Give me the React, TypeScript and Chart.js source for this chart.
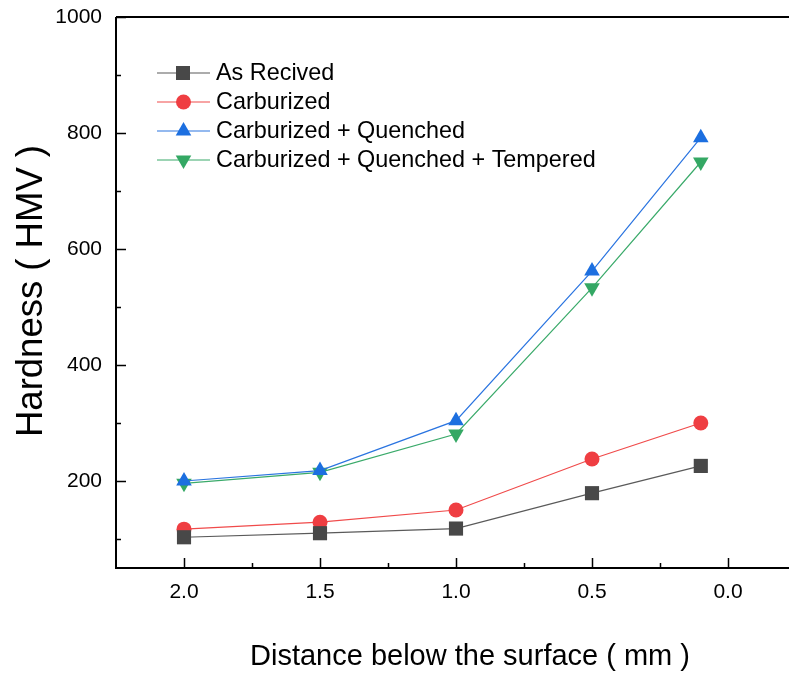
import React, { useEffect, useRef } from "react";
import { Chart, registerables } from "chart.js";

Chart.register(...registerables);

const distances = [2.0, 1.5, 1.0, 0.5, 0.1];
const asReceived = [103, 110, 118, 179, 226];
const carburized = [117, 129, 150, 238, 300];
const carbQuenched = [200, 218, 304, 562, 792];
const carbQuenchedTempered = [196, 215, 281, 533, 750];

const seriesLabels = [
  "As Recived",
  "Carburized",
  "Carburized + Quenched",
  "Carburized + Quenched + Tempered",
];

const xMajorTicks = [2.0, 1.5, 1.0, 0.5, 0.0];
const xMinorTicks = [1.75, 1.25, 0.75, 0.25];
const yMajorTicks = [200, 400, 600, 800, 1000];
const yMinorTicks = [100, 300, 500, 700, 900];

const xTitle = "Distance below the surface ( mm )";
const yTitle = "Hardness ( HMV )";

const FONT = "Arial, 'Liberation Sans', sans-serif";

const framePlugin = {
  id: "frame",
  afterDatasetsDraw(chart: any) {
    const { ctx, chartArea } = chart;
    const xs = chart.scales.x;
    const ys = chart.scales.y;
    const rightEdge = chart.width;
    ctx.save();
    ctx.strokeStyle = "#000";
    ctx.lineWidth = 2;
    ctx.beginPath();
    ctx.moveTo(chartArea.left, chartArea.top);
    ctx.lineTo(rightEdge, chartArea.top);
    ctx.moveTo(chartArea.left, chartArea.top);
    ctx.lineTo(chartArea.left, chartArea.bottom);
    ctx.lineTo(rightEdge, chartArea.bottom);
    ctx.stroke();
    ctx.lineWidth = 1.5;
    ctx.beginPath();
    xMajorTicks.forEach((v) => {
      const px = Math.round(xs.getPixelForValue(v)) + 0.5;
      ctx.moveTo(px, chartArea.bottom);
      ctx.lineTo(px, chartArea.bottom - 10);
    });
    xMinorTicks.forEach((v) => {
      const px = Math.round(xs.getPixelForValue(v)) + 0.5;
      ctx.moveTo(px, chartArea.bottom);
      ctx.lineTo(px, chartArea.bottom - 5);
    });
    yMajorTicks.forEach((v) => {
      const py = Math.round(ys.getPixelForValue(v)) + 0.5;
      ctx.moveTo(chartArea.left, py);
      ctx.lineTo(chartArea.left + 10, py);
    });
    yMinorTicks.forEach((v) => {
      const py = Math.round(ys.getPixelForValue(v)) + 0.5;
      ctx.moveTo(chartArea.left, py);
      ctx.lineTo(chartArea.left + 5, py);
    });
    ctx.stroke();

    // titles
    ctx.fillStyle = "#000";
    ctx.font = `29px ${FONT}`;
    ctx.textAlign = "center";
    ctx.textBaseline = "middle";
    ctx.fillText(xTitle, 470, 657);
    ctx.save();
    ctx.translate(32, 291);
    ctx.rotate(-Math.PI / 2);
    ctx.font = `36.5px ${FONT}`;
    ctx.fillText(yTitle, 0, 0);
    ctx.restore();

    // legend
    const rowYs = [73, 102, 131, 160];
    chart.data.datasets.forEach((ds: any, i: number) => {
      const y = rowYs[i];
      ctx.strokeStyle = ds.borderColor;
      ctx.lineWidth = 1.2;
      ctx.beginPath();
      ctx.moveTo(157, y);
      ctx.lineTo(210, y);
      ctx.stroke();
      ctx.fillStyle = ds.pointBackgroundColor;
      ctx.beginPath();
      const st = ds.pointStyle;
      if (st === "rect") {
        ctx.rect(183 - 7, y - 7, 14, 14);
      } else if (st === "circle") {
        ctx.arc(183.5, y, 7.5, 0, Math.PI * 2);
      } else {
        const r = 9;
        const dir = ds.pointRotation === 180 ? -1 : 1;
        ctx.moveTo(183.5, y - dir * r);
        ctx.lineTo(183.5 + r * 0.866, y + dir * r * 0.5);
        ctx.lineTo(183.5 - r * 0.866, y + dir * r * 0.5);
        ctx.closePath();
      }
      ctx.fill();
      ctx.fillStyle = "#000";
      ctx.font = `23.4px ${FONT}`;
      ctx.textAlign = "left";
      ctx.textBaseline = "middle";
      ctx.fillText(ds.label, 216, y + 1);
    });
    ctx.restore();
  },
};

const zeroPad = (s: any) => {
  s.paddingTop = 0;
  s.paddingBottom = 0;
  s.paddingLeft = 0;
  s.paddingRight = 0;
};

export default function App() {
  const ref = useRef<HTMLCanvasElement | null>(null);
  useEffect(() => {
    if (!ref.current) return;
    const mk = (label: string, data: number[], line: string, fill: string, style: string, radius: number, rot = 0) => ({
      label,
      data: distances.map((d, i) => ({ x: d, y: data[i] })),
      borderColor: line,
      borderWidth: 1.2,
      pointStyle: style,
      pointRadius: radius,
      pointRotation: rot,
      pointBackgroundColor: fill,
      pointBorderColor: fill,
      pointBorderWidth: 0,
      tension: 0,
    });
    const chart = new Chart(ref.current, {
      type: "line",
      data: {
        datasets: [
          mk(seriesLabels[0], asReceived, "#5a5a5a", "#484848", "rect", 10),
          mk(seriesLabels[1], carburized, "#f04a4a", "#ef3e42", "circle", 7.5),
          mk(seriesLabels[2], carbQuenched, "#2a74e0", "#1c6fe0", "triangle", 9),
          mk(seriesLabels[3], carbQuenchedTempered, "#3aaa6a", "#34a864", "triangle", 9, 180),
        ] as any,
      },
      options: {
        animation: false,
        responsive: false,
        maintainAspectRatio: false,
        layout: { padding: { top: 17, right: 0, left: 0, bottom: 0 } },
        plugins: { legend: { display: false }, tooltip: { enabled: false } },
        scales: {
          x: {
            type: "linear",
            reverse: true,
            min: -0.1875,
            max: 2.25,
            grid: { display: false, drawTicks: false },
            border: { display: false },
            afterFit: (s: any) => {
              s.height = 107;
              zeroPad(s);
            },
            afterBuildTicks: (s: any) => {
              s.ticks = xMajorTicks.map((v) => ({ value: v }));
            },
            ticks: {
              color: "#000",
              font: { family: FONT, size: 21 },
              padding: 12,
              maxRotation: 0,
              autoSkip: false,
              callback: (v: any) => Number(v).toFixed(1),
            },
          },
          y: {
            type: "linear",
            min: 50,
            max: 1000,
            grid: { display: false, drawTicks: false },
            border: { display: false },
            afterFit: (s: any) => {
              s.width = 116;
              zeroPad(s);
            },
            afterBuildTicks: (s: any) => {
              s.ticks = yMajorTicks.map((v) => ({ value: v }));
            },
            ticks: {
              color: "#000",
              font: { family: FONT, size: 21 },
              padding: 14,
              autoSkip: false,
              callback: (v: any) => String(v),
            },
          },
        },
      },
      plugins: [framePlugin],
    });
    return () => chart.destroy();
  }, []);
  return (
    <div style={{ position: "fixed", left: 0, top: 0, width: 789, height: 675, background: "#fff" }}>
      <canvas ref={ref} width={789} height={675} style={{ width: 789, height: 675 }} />
    </div>
  );
}
